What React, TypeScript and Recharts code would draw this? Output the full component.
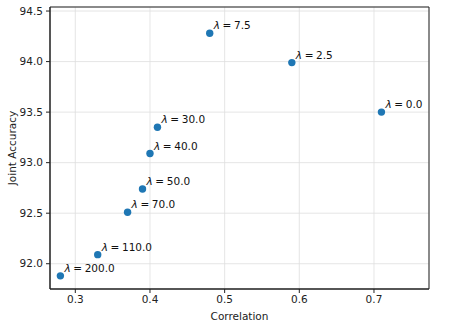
import { ScatterChart, Scatter, XAxis, YAxis, CartesianGrid, ReferenceArea } from "recharts";

const lambdas = ["0.0", "2.5", "7.5", "30.0", "40.0", "50.0", "70.0", "110.0", "200.0"];
const correlation = [0.71, 0.59, 0.48, 0.41, 0.4, 0.39, 0.37, 0.33, 0.28];
const accuracy = [93.5, 93.99, 94.28, 93.35, 93.09, 92.74, 92.51, 92.09, 91.88];
const xTicks = [0.3, 0.4, 0.5, 0.6, 0.7];
const yTicks = [92.0, 92.5, 93.0, 93.5, 94.0, 94.5];

const data = lambdas.map((l, i) => ({ x: correlation[i], y: accuracy[i], label: l }));

const X_MIN = 0.2661;
const X_MAX = 0.7737;
const Y_MIN = 91.75;
const Y_MAX = 94.54;

const FONT = "DejaVu Sans";
const tickStyle = { fontSize: 10.5, fill: "#222", fontFamily: FONT };

// point + "λ = value" annotation, like matplotlib's annotate with a small offset
const Dot = (props: any) => {
  const { cx, cy, payload } = props;
  return (
    <g>
      <circle cx={cx} cy={cy} r={3.7} fill="#1f77b4" />
      <text x={cx + 4} y={cy - 4} fontSize={10.5} fontFamily={FONT} fill="#111">
        <tspan fontStyle="italic">λ</tspan>
        <tspan>{"\u2005=\u2005" + payload.label}</tspan>
      </text>
    </g>
  );
};

export default function App() {
  return (
    <div style={{ position: "absolute", left: 0, top: 0, background: "#fff" }}>
      <ScatterChart width={467} height={324} margin={{ top: 7, right: 38, left: 0, bottom: 0 }}>
        <CartesianGrid stroke="#dedede" strokeWidth={0.8} />
        <XAxis
          type="number"
          dataKey="x"
          domain={[X_MIN, X_MAX]}
          ticks={xTicks}
          allowDataOverflow
          tickFormatter={(v: number) => v.toFixed(1)}
          height={35}
          tickSize={4}
          tickMargin={3}
          tick={tickStyle}
          stroke="#222"
          label={{ value: "Correlation", position: "insideBottom", offset: 4, fontSize: 10.5, fill: "#222", fontFamily: FONT }}
        />
        <YAxis
          type="number"
          dataKey="y"
          domain={[Y_MIN, Y_MAX]}
          ticks={yTicks}
          allowDataOverflow
          tickFormatter={(v: number) => v.toFixed(1)}
          width={50}
          tickSize={4}
          tickMargin={3}
          tick={tickStyle}
          stroke="#222"
          label={{ value: "Joint Accuracy", angle: -90, position: "center", dx: -13, fontSize: 10.5, fill: "#222", fontFamily: FONT }}
        />
        <ReferenceArea x1={X_MIN} x2={X_MAX} y1={Y_MIN} y2={Y_MAX} fill="none" stroke="#222" strokeWidth={1} fillOpacity={0} />
        <Scatter data={data} isAnimationActive={false} shape={Dot} />
      </ScatterChart>
    </div>
  );
}
